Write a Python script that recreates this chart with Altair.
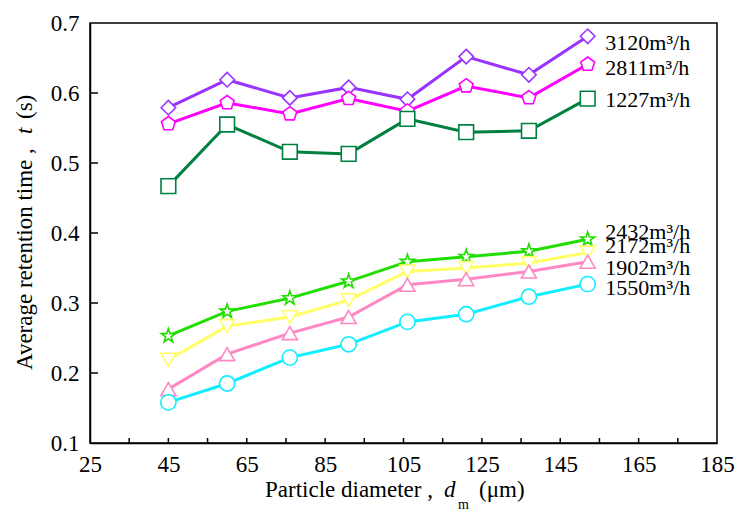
import altair as alt
import pandas as pd

# ---------------- data ----------------
diam = [45, 60, 76, 91, 106, 121, 137, 152]
series_names = ["3120m³/h", "2811m³/h", "1227m³/h", "2432m³/h",
                "2172m³/h", "1902m³/h", "1550m³/h"]
t_3120 = [0.579, 0.619, 0.593, 0.608, 0.591, 0.652, 0.626, 0.681]
t_2811 = [0.556, 0.586, 0.570, 0.592, 0.574, 0.610, 0.593, 0.641]
t_1227 = [0.467, 0.555, 0.516, 0.513, 0.563, 0.544, 0.546, 0.592]
t_2432 = [0.253, 0.288, 0.307, 0.331, 0.359, 0.366, 0.374, 0.391]
t_2172 = [0.219, 0.267, 0.280, 0.304, 0.345, 0.350, 0.357, 0.372]
t_1902 = [0.177, 0.227, 0.257, 0.280, 0.326, 0.334, 0.345, 0.359]
t_1550 = [0.158, 0.185, 0.222, 0.241, 0.273, 0.284, 0.309, 0.327]
all_series = [t_3120, t_2811, t_1227, t_2432, t_2172, t_1902, t_1550]

label_x = [156.5] * 7
label_y = [0.672, 0.636, 0.590, 0.401, 0.381, 0.350, 0.321]

x_tick_labels = [25, 45, 65, 85, 105, 125, 145, 165, 185]
y_tick_labels = [0.1, 0.2, 0.3, 0.4, 0.5, 0.6, 0.7]
x_inner_ticks = [35, 45, 55, 65, 75, 85, 95, 105, 115, 125, 135, 145, 155, 165, 175]
y_inner_ticks = [0.2, 0.3, 0.4, 0.5, 0.6]

colors = ["#9933ff", "#ff00ff", "#008040", "#22dd00", "#ffff66", "#ff88c4", "#11eeff"]
PENTAGON = "M0,-1L0.951,-0.309L0.588,0.809L-0.588,0.809L-0.951,-0.309Z"
STAR = ("M0,-1L0.2245,-0.309L0.951,-0.309L0.3633,0.118L0.588,0.809L0,0.382"
        "L-0.588,0.809L-0.3633,0.118L-0.951,-0.309L-0.2245,-0.309Z")
shapes = ["diamond", PENTAGON, "square", STAR, "triangle-down", "triangle-up", "circle"]
sizes = [210, 230, 100, 250, 190, 190, 120]

FONT = "Liberation Serif"

# ---------------- tables ----------------
rows = []
for name, vals in zip(series_names, all_series):
    for d, v in zip(diam, vals):
        rows.append({"series": name, "d": d, "t": v})
df = pd.DataFrame(rows)
labels_df = pd.DataFrame({"lx": label_x, "ly": label_y, "text": series_names})
xt_df = pd.DataFrame({"v": x_inner_ticks})
yt_df = pd.DataFrame({"v": y_inner_ticks})

W, H = 627, 420
xscale = alt.Scale(domain=[25, 185], nice=False, zero=False)
yscale = alt.Scale(domain=[0.1, 0.7], nice=False, zero=False)

x_axis = alt.Axis(values=x_tick_labels, format="d", title=None, grid=False,
                  ticks=False, tickSize=0, labelPadding=10, labelFont=FONT,
                  labelFontSize=23, labelColor="black", domainColor="black",
                  domainWidth=1.5, labelFlush=False, labelOverlap=False)
y_axis = alt.Axis(values=y_tick_labels, format=".1f", title=None, grid=False,
                  ticks=False, tickSize=0, labelPadding=11, labelFont=FONT,
                  labelFontSize=23, labelColor="black", domainColor="black",
                  domainWidth=1.5, labelFlush=False, labelOverlap=False)

color_scale = alt.Scale(domain=series_names, range=colors)

lines = alt.Chart(df).mark_line(strokeWidth=3).encode(
    x=alt.X("d:Q", scale=xscale, axis=x_axis),
    y=alt.Y("t:Q", scale=yscale, axis=y_axis),
    color=alt.Color("series:N", scale=color_scale, legend=None),
)

points = alt.Chart(df).mark_point(filled=True, fill="white", opacity=1,
                                  strokeWidth=1.6).encode(
    x=alt.X("d:Q", scale=xscale, axis=x_axis),
    y=alt.Y("t:Q", scale=yscale, axis=y_axis),
    stroke=alt.Stroke("series:N", scale=color_scale, legend=None),
    shape=alt.Shape("series:N", scale=alt.Scale(domain=series_names, range=shapes), legend=None),
    size=alt.Size("series:N", scale=alt.Scale(domain=series_names, range=sizes), legend=None),
)

labels = alt.Chart(labels_df).mark_text(align="left", baseline="middle", font=FONT,
                                        fontSize=22, color="black").encode(
    x=alt.X("lx:Q", scale=xscale, axis=x_axis),
    y=alt.Y("ly:Q", scale=yscale, axis=y_axis),
    text="text:N",
)

xticks = alt.Chart(xt_df).mark_rule(color="black", strokeWidth=1.5).encode(
    x=alt.X("v:Q", scale=xscale, axis=x_axis),
    y=alt.value(H),
    y2=alt.value(H - 5),
)
yticks = alt.Chart(yt_df).mark_rule(color="black", strokeWidth=1.5).encode(
    y=alt.Y("v:Q", scale=yscale, axis=y_axis),
    x=alt.value(0),
    x2=alt.value(8),
)


def piece(text, x, y, size=23, italic=False, angle=0):
    kw = dict(align="left", baseline="alphabetic", font=FONT, fontSize=size,
              color="black", text=text)
    if italic:
        kw["fontStyle"] = "italic"
    if angle:
        kw["angle"] = angle
    return alt.Chart(pd.DataFrame({"k": [0]})).mark_text(**kw).encode(
        x=alt.value(x), y=alt.value(y))


# x-axis title pieces (positions relative to plot area)
xt1 = piece("Particle diameter ,", 175, 474)
xt2 = piece("d", 354, 474, italic=True)
xt3 = piece("m", 368, 486, size=14)
xt4 = piece("(μm)", 389, 474)
# y-axis title pieces (rotated)
yt1 = piece("Average retention time ,", -58, 347, angle=270)
yt2 = piece("t", -58, 111, italic=True, angle=270)
yt3 = piece("(s)", -58, 96, angle=270)

chart = alt.layer(
    lines, points, labels, xticks, yticks,
    xt1, xt2, xt3, xt4, yt1, yt2, yt3,
).properties(
    width=W, height=H,
    autosize=alt.AutoSizeParams(type="none"),
    padding={"left": 90, "top": 23, "right": 20, "bottom": 70},
    background="white",
).configure(
    font=FONT
).configure_view(
    stroke="black", strokeWidth=1.5
).configure_axis(
    labelFont=FONT, labelFontSize=23, labelColor="black", labelFontWeight="normal"
).configure_text(font=FONT)

chart.save("out.html", embed_options={"renderer": "svg", "actions": False})
